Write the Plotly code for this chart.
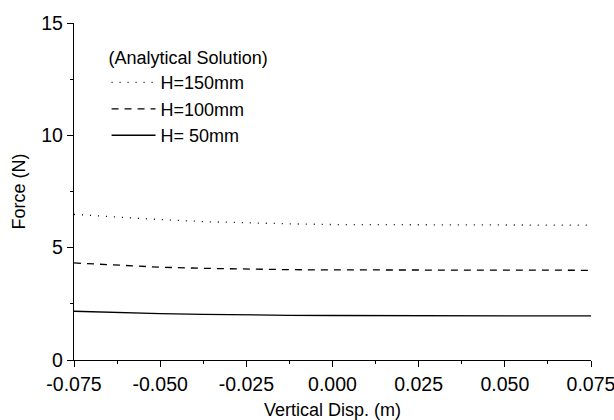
import plotly.graph_objects as go

x_disp = [-0.075, -0.0625, -0.05, -0.0375, -0.025, -0.0125, 0.0, 0.0125, 0.025, 0.0375, 0.05, 0.0625, 0.075]
f_h150 = [6.48, 6.36, 6.25, 6.16, 6.10, 6.06, 6.03, 6.02, 6.01, 6.01, 6.00, 6.00, 6.00]
f_h100 = [4.32, 4.22, 4.13, 4.08, 4.04, 4.02, 4.01, 4.00, 4.00, 4.00, 4.00, 4.00, 3.99]
f_h50 = [2.17, 2.11, 2.06, 2.03, 2.00, 1.99, 1.98, 1.98, 1.98, 1.97, 1.97, 1.97, 1.96]
series_names = ["H=150mm", "H=100mm", "H= 50mm"]
legend_title = "(Analytical Solution)"

FONT = "Liberation Sans, Arial, sans-serif"

fig = go.Figure()
styles = [("1px,7px", 1.3), ("7px,6px", 1.3), ("solid", 1.3)]
for name, ys, (dash, w) in zip(series_names, [f_h150, f_h100, f_h50], styles):
    fig.add_trace(go.Scatter(x=x_disp, y=ys, mode="lines", name=name, legendgroup=name,
                             line=dict(color="black", width=w, dash=dash), cliponaxis=False))

axis_common = dict(showline=True, linecolor="black", linewidth=1.3, ticks="outside",
                   ticklen=6, tickwidth=1.3, tickcolor="black", showgrid=False, zeroline=False,
                   tickfont=dict(family=FONT, size=19.5, color="black"), mirror=False,
                   automargin=False, ticklabeloverflow="allow")

fig.update_xaxes(range=[-0.075, 0.075], tickvals=[-0.075, -0.05, -0.025, 0, 0.025, 0.05, 0.075],
                 ticktext=["-0.075", "-0.050", "-0.025", "0.000", "0.025", "0.050", "0.075"],
                 minor=dict(tickvals=[-0.0625, -0.0375, -0.0125, 0.0125, 0.0375, 0.0625], ticklen=3,
                            tickwidth=1.3, tickcolor="black", ticks="outside"),
                 title=dict(text="Vertical Disp. (m)", font=dict(family=FONT, size=18, color="black"), standoff=12),
                 **axis_common)
fig.update_yaxes(range=[0, 15], tickvals=[0, 5, 10, 15],
                 minor=dict(tickvals=[2.5, 7.5, 12.5], ticklen=3, tickwidth=1.3, tickcolor="black", ticks="outside"),
                 title=dict(text="Force (N)", font=dict(family=FONT, size=18, color="black"), standoff=10),
                 **axis_common)

fig.update_layout(
    width=614, height=420,
    margin=dict(l=74, r=23, t=23, b=60),
    plot_bgcolor="white", paper_bgcolor="white",
    font=dict(family=FONT, size=18, color="black"),
    legend=dict(title=dict(text=legend_title, font=dict(family=FONT, size=18)),
                x=0.063, y=0.947, xanchor="left", yanchor="top",
                bgcolor="rgba(0,0,0,0)", itemwidth=44, tracegroupgap=0,
                font=dict(family=FONT, size=18, color="black")),
)

fig.write_html("out.html")
